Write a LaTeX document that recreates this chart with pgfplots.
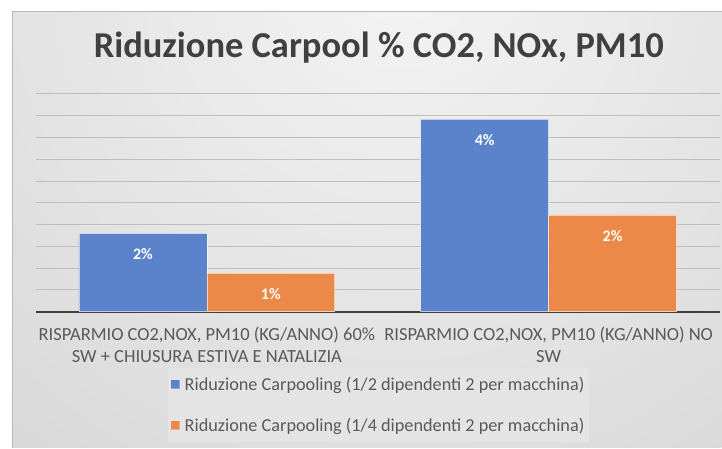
\documentclass[border=0pt]{standalone}
\usepackage{pgfplots}
\pgfplotsset{compat=1.18}
\usepackage{fontspec}
\setmainfont{Carlito}
\definecolor{cblue}{RGB}{91,131,203}
\definecolor{corange}{RGB}{236,137,72}
\definecolor{gridc}{RGB}{190,190,190}
\definecolor{txt}{RGB}{89,89,89}
\definecolor{ttl}{RGB}{64,64,64}
\definecolor{legbg}{RGB}{228,228,228}
\definecolor{bgc0}{RGB}{244,244,244}
\definecolor{bgc1}{RGB}{186,186,186}
\pgfdeclareradialshading{bgshade}{\pgfpoint{0bp}{0bp}}{color(0bp)=(bgc0); color(25bp)=(bgc1); color(50bp)=(bgc1)}
\begin{document}
\begin{tikzpicture}[x=1pt,y=1pt]
\fill[white] (0,0) rectangle (722,448);
\begin{scope}
\clip (13,0) rectangle (722,436);
\shade[shading=bgshade] (400,480) circle (1300);
\end{scope}
\draw[gray!55, line width=1pt] (13,0) -- (13,436) -- (722,436);
\node[font=\bfseries\fontsize{36.5}{42}\selectfont, text=ttl] at (379,400) {Riduzione Carpool \% CO2, NOx, PM10};
\begin{axis}[
  at={(36pt,136pt)}, anchor=south west, scale only axis,
  width=684pt, height=218pt,
  ybar=0pt, bar width=128pt,
  xmin=-0.5, xmax=1.5, ymin=0, ymax=5,
  xtick={0,1},
  xticklabels={{RISPARMIO CO2,NOX, PM10 (KG/ANNO) 60\%\\SW + CHIUSURA ESTIVA E NATALIZIA},{RISPARMIO CO2,NOX, PM10 (KG/ANNO) NO\\SW}},
  xticklabel style={align=center, font=\fontsize{18.5}{22}\selectfont, text=txt, yshift=-7pt},
  ytick={0,0.5,1,1.5,2,2.5,3,3.5,4,4.5,5}, yticklabels={},
  ymajorgrids, grid style={gridc, line width=1pt},
  axis lines*=left,
  y axis line style={draw=none},
  x axis line style={draw=ttl, line width=1.5pt, -},
  major tick style={draw=none},
  /pgf/number format/assume math mode=true,
  nodes near coords={\pgfmathprintnumber[fixed,precision=0,assume math mode=true]{\pgfplotspointmeta}\%},
  nodes near coords style={font=\bfseries\fontsize{16}{19}\selectfont, text=white, anchor=center, yshift=-21pt},
  legend style={at={(0.5015,-0.257)}, anchor=north, fill=legbg, draw=none,
    font=\fontsize{18.25}{21}\selectfont, text=txt, row sep=22pt, inner ysep=7pt, inner xsep=3pt,
    /tikz/every odd column/.append style={column sep=3pt}},
  legend cell align=left,
]
\addplot[fill=cblue, draw=white, draw opacity=0.6, line width=0.6pt,
  legend image code/.code={\fill[cblue] (0pt,-4pt) rectangle (8pt,4pt);}]
  coordinates {(0,1.80) (1,4.42)};
\addplot[fill=corange, draw=white, draw opacity=0.6, line width=0.6pt,
  legend image code/.code={\fill[corange] (0pt,-4pt) rectangle (8pt,4pt);}]
  coordinates {(0,0.885) (1,2.225)};
\legend{Riduzione Carpooling (1/2 dipendenti 2 per macchina),Riduzione Carpooling (1/4 dipendenti 2 per macchina)}
\end{axis}
\end{tikzpicture}
\end{document}
